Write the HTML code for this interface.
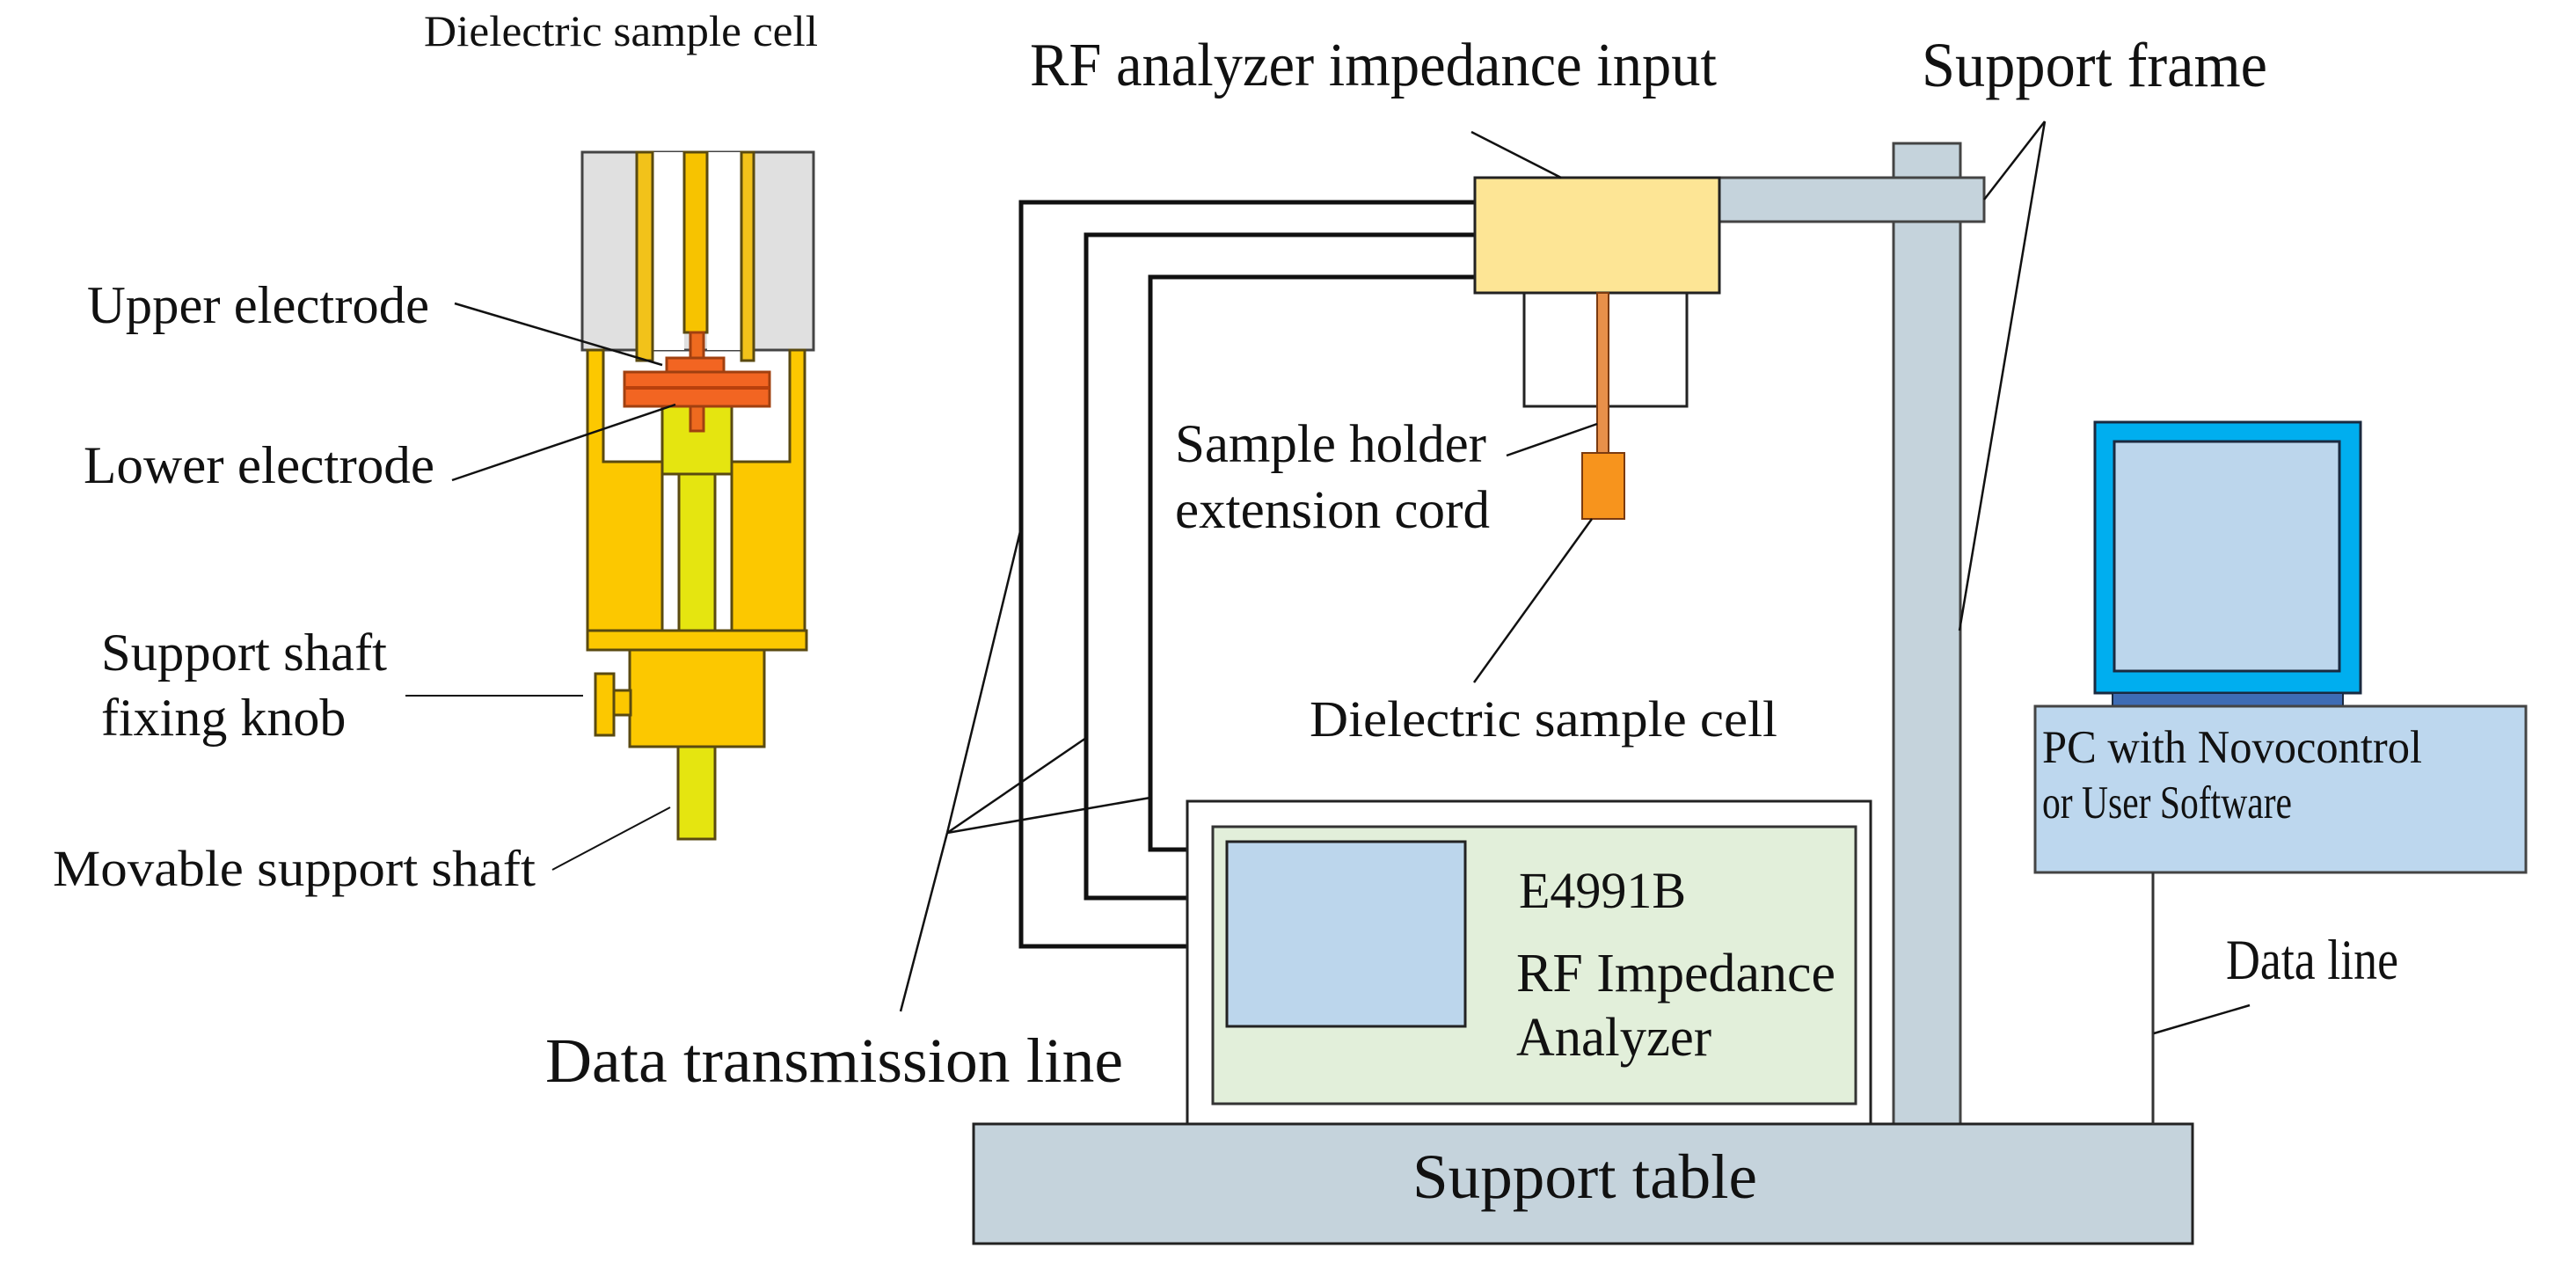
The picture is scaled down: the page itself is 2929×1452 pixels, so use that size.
<!DOCTYPE html>
<html><head><meta charset="utf-8"><style>
html,body{margin:0;padding:0;background:#fff}
svg{display:block}
text{font-family:"Liberation Serif",serif;fill:#111}
</style></head><body>
<svg width="2929" height="1452" viewBox="0 0 2929 1452" xmlns="http://www.w3.org/2000/svg">
<rect width="2929" height="1452" fill="#fff"/>

<!-- ===== Left: dielectric sample cell ===== -->
<g stroke="#5a4a10" stroke-width="3">
  <rect x="662" y="173" width="263" height="225" fill="#e0e0e0" stroke="#444"/>
  <rect x="742" y="173" width="36" height="225" fill="#fff" stroke="none"/>
  <rect x="804" y="173" width="39" height="225" fill="#fff" stroke="none"/>
  <rect x="724" y="173" width="18" height="237" fill="#f2c21a"/>
  <rect x="778" y="173" width="26" height="205" fill="#f7c300"/>
  <rect x="843" y="173" width="14" height="237" fill="#f2c21a"/>
  <path d="M668 398 H686 V525 H898 V398 H915 V717 H668 Z" fill="#fcc800"/>
  <rect x="753" y="539" width="79" height="178" fill="#fff"/>
  <rect x="772" y="539" width="41" height="178" fill="#e5e510"/>
  <rect x="753" y="462" width="79" height="77" fill="#e5e510"/>
  <rect x="668" y="717" width="249" height="22" fill="#fcc800"/>
  <rect x="716" y="739" width="153" height="110" fill="#fcc800"/>
  <rect x="698" y="785" width="19" height="28" fill="#fcc800"/>
  <rect x="677" y="766" width="21" height="70" fill="#fcc800"/>
  <rect x="771" y="849" width="42" height="105" fill="#e5e510"/>
  <rect x="785" y="378" width="15" height="112" fill="#ee6a1f" stroke="#a04010"/>
  <rect x="758" y="407" width="65" height="18" fill="#f26522" stroke="#a04010"/>
  <rect x="710" y="423" width="165" height="39" fill="#f26522" stroke="#a04010"/>
  <line x1="710" y1="441" x2="875" y2="441" stroke="#b8400c" stroke-width="4"/>
</g>
<g stroke="#111" stroke-width="2.5" fill="none">
  <line x1="517" y1="345" x2="753" y2="415"/>
  <line x1="514" y1="546" x2="768" y2="460"/>
  <line x1="461" y1="791" x2="663" y2="791" stroke-width="2"/>
  <line x1="628" y1="989" x2="762" y2="918" stroke-width="2"/>
</g>
<text x="482" y="52" font-size="50" textLength="448" lengthAdjust="spacingAndGlyphs">Dielectric sample cell</text>
<text x="99" y="367" font-size="60" textLength="389" lengthAdjust="spacingAndGlyphs">Upper electrode</text>
<text x="95" y="549" font-size="60" textLength="399" lengthAdjust="spacingAndGlyphs">Lower electrode</text>
<text x="115" y="762" font-size="60" textLength="325" lengthAdjust="spacingAndGlyphs">Support shaft</text>
<text x="115" y="836" font-size="60">fixing knob</text>
<text x="60" y="1007" font-size="58" textLength="549" lengthAdjust="spacingAndGlyphs">Movable support shaft</text>

<!-- ===== Right: setup ===== -->
<g stroke="#111" stroke-width="5" fill="none">
  <polyline points="1677,230 1161,230 1161,1076 1353,1076"/>
  <polyline points="1677,267 1235,267 1235,1021 1353,1021"/>
  <polyline points="1677,315 1308,315 1308,966 1353,966"/>
</g>
<rect x="2153" y="163" width="76" height="1116" fill="#c5d3dc" stroke="#444" stroke-width="3"/>
<rect x="1955" y="202" width="301" height="50" fill="#c5d3dc" stroke="#444" stroke-width="3"/>
<rect x="1733" y="333" width="185" height="129" fill="#fff" stroke="#222" stroke-width="3"/>
<rect x="1677" y="202" width="278" height="131" fill="#fde595" stroke="#222" stroke-width="3"/>
<rect x="1816" y="333" width="13" height="182" fill="#e8904a" stroke="#7a3a10" stroke-width="2"/>
<rect x="1799" y="515" width="48" height="75" fill="#f7941d" stroke="#7a3a10" stroke-width="2"/>

<rect x="1350" y="911" width="777" height="368" fill="#fff" stroke="#222" stroke-width="3"/>
<rect x="1379" y="940" width="731" height="315" fill="#e2efda" stroke="#333" stroke-width="3"/>
<rect x="1395" y="957" width="271" height="210" fill="#bcd6ec" stroke="#222" stroke-width="3"/>
<text x="1727" y="1032" font-size="58">E4991B</text>
<text x="1724" y="1127" font-size="62" textLength="363" lengthAdjust="spacingAndGlyphs">RF Impedance</text>
<text x="1724" y="1200" font-size="62" textLength="222" lengthAdjust="spacingAndGlyphs">Analyzer</text>

<rect x="1107" y="1278" width="1386" height="136" fill="#c5d3dc" stroke="#222" stroke-width="3"/>
<text x="1606" y="1362" font-size="72" textLength="392" lengthAdjust="spacingAndGlyphs">Support table</text>

<rect x="2382" y="480" width="302" height="308" fill="#00aeef" stroke="#1a2a40" stroke-width="3"/>
<rect x="2404" y="502" width="256" height="261" fill="#bcd6ec" stroke="#1a2a40" stroke-width="3"/>
<rect x="2402" y="788" width="262" height="15" fill="#3e6cb4" stroke="#1a2a40" stroke-width="2"/>
<rect x="2314" y="803" width="558" height="189" fill="#bdd7ee" stroke="#444" stroke-width="3"/>
<text x="2322" y="867" font-size="53" textLength="432" lengthAdjust="spacingAndGlyphs">PC with Novocontrol</text>
<text x="2322" y="930" font-size="53" textLength="284" lengthAdjust="spacingAndGlyphs">or User Software</text>
<line x1="2448" y1="992" x2="2448" y2="1278" stroke="#333" stroke-width="3"/>

<g stroke="#111" stroke-width="2.5" fill="none">
  <line x1="1775" y1="202" x2="1673" y2="150"/>
  <line x1="2325" y1="138" x2="2256" y2="227"/>
  <line x1="2325" y1="138" x2="2228" y2="717"/>
  <line x1="1713" y1="518" x2="1816" y2="482"/>
  <line x1="1810" y1="590" x2="1676" y2="776"/>
  <line x1="1077" y1="947" x2="1161" y2="600"/>
  <line x1="1077" y1="947" x2="1235" y2="839"/>
  <line x1="1077" y1="947" x2="1308" y2="907"/>
  <line x1="1077" y1="947" x2="1024" y2="1150"/>
  <line x1="2449" y1="1175" x2="2558" y2="1143"/>
</g>

<text x="1171" y="97" font-size="70" textLength="781" lengthAdjust="spacingAndGlyphs">RF analyzer impedance input</text>
<text x="2185" y="98" font-size="72" textLength="393" lengthAdjust="spacingAndGlyphs">Support frame</text>
<text x="1336" y="525" font-size="61" textLength="354" lengthAdjust="spacingAndGlyphs">Sample holder</text>
<text x="1336" y="600" font-size="61" textLength="358" lengthAdjust="spacingAndGlyphs">extension cord</text>
<text x="1489" y="837" font-size="58" textLength="532" lengthAdjust="spacingAndGlyphs">Dielectric sample cell</text>
<text x="620" y="1230" font-size="72" textLength="657" lengthAdjust="spacingAndGlyphs">Data transmission line</text>
<text x="2531" y="1113" font-size="65" textLength="196" lengthAdjust="spacingAndGlyphs">Data line</text>
</svg>
</body></html>
